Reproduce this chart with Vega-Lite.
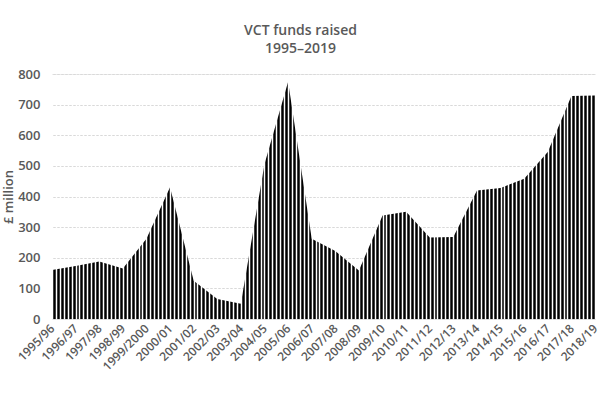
{
  "$schema": "https://vega.github.io/schema/vega-lite/v6.json",
  "width": 543,
  "height": 245,
  "autosize": {"type": "none"},
  "padding": {"left": 52, "top": 74, "right": 5, "bottom": 81},
  "background": "white",
  "title": {
    "text": ["VCT funds raised", "1995–2019"],
    "anchor": "middle",
    "dx": -23,
    "offset": 12,
    "font": "Open Sans",
    "fontSize": 14,
    "fontWeight": 600,
    "color": "#595959",
    "lineHeight": 18
  },
  "data": {
    "values": [
      {"year": "1995/96", "start": "1995-01-01", "value": 160},
      {"year": "1996/97", "start": "1996-01-01", "value": 173},
      {"year": "1997/98", "start": "1997-01-01", "value": 188},
      {"year": "1998/99", "start": "1998-01-01", "value": 165},
      {"year": "1999/2000", "start": "1999-01-01", "value": 262},
      {"year": "2000/01", "start": "2000-01-01", "value": 430},
      {"year": "2001/02", "start": "2001-01-01", "value": 125},
      {"year": "2002/03", "start": "2002-01-01", "value": 65},
      {"year": "2003/04", "start": "2003-01-01", "value": 50},
      {"year": "2004/05", "start": "2004-01-01", "value": 505},
      {"year": "2005/06", "start": "2005-01-01", "value": 775},
      {"year": "2006/07", "start": "2006-01-01", "value": 262},
      {"year": "2007/08", "start": "2007-01-01", "value": 222},
      {"year": "2008/09", "start": "2008-01-01", "value": 158},
      {"year": "2009/10", "start": "2009-01-01", "value": 338},
      {"year": "2010/11", "start": "2010-01-01", "value": 350},
      {"year": "2011/12", "start": "2011-01-01", "value": 266},
      {"year": "2012/13", "start": "2012-01-01", "value": 268},
      {"year": "2013/14", "start": "2013-01-01", "value": 420},
      {"year": "2014/15", "start": "2014-01-01", "value": 428},
      {"year": "2015/16", "start": "2015-01-01", "value": 458},
      {"year": "2016/17", "start": "2016-01-01", "value": 545},
      {"year": "2017/18", "start": "2017-01-01", "value": 728},
      {"year": "2018/19", "start": "2018-01-01", "value": 730}
    ]
  },
  "layer": [
    {
      "mark": {"type": "area", "color": "#000000", "interpolate": "linear", "opacity": 1},
      "encoding": {
        "x": {
          "field": "start",
          "type": "temporal",
          "scale": {"type": "utc", "nice": false},
          "axis": {
            "orient": "bottom",
            "tickCount": {"interval": "year", "step": 1},
            "labelExpr": "utcyear(datum.value) == 1999 ? '1999/2000' : utcyear(datum.value) + '/' + pad('' + (utcyear(datum.value) + 1) % 100, 2, '0', 'left')",
            "labelAngle": -45,
            "labelAlign": "right",
            "labelBaseline": "middle",
            "labelFlush": false,
            "labelOverlap": false,
            "labelBound": false,
            "labelPadding": 7,
            "labelFont": "Open Sans",
            "labelFontSize": 12,
            "labelFontWeight": 600,
            "labelColor": "#595959",
            "grid": false,
            "ticks": false,
            "tickSize": 0,
            "domain": true,
            "domainColor": "#d9d9d9",
            "title": null
          }
        },
        "y": {
          "field": "value",
          "type": "quantitative",
          "scale": {"domain": [0, 800], "nice": false},
          "axis": {
            "values": [0, 100, 200, 300, 400, 500, 600, 700, 800],
            "grid": true,
            "gridColor": "#d9d9d9",
            "gridWidth": 1,
            "ticks": false,
            "tickSize": 0,
            "domain": false,
            "labelPadding": 12,
            "labelFont": "Open Sans",
            "labelFontSize": 13,
            "labelFontWeight": 600,
            "labelColor": "#595959",
            "title": "£ million",
            "titleFont": "Open Sans",
            "titleFontSize": 13,
            "titleFontWeight": 600,
            "titleColor": "#595959",
            "titlePadding": 2
          }
        }
      }
    },
    {
      "mark": {"type": "point", "opacity": 0},
      "encoding": {
        "x": {
          "field": "start",
          "type": "temporal",
          "axis": {
            "orient": "top",
            "tickCount": {"interval": "month", "step": 2},
            "grid": true,
            "gridColor": "#ffffff",
            "gridWidth": 1.5,
            "gridOpacity": 1,
            "zindex": 1,
            "labels": false,
            "ticks": false,
            "domain": false,
            "title": null
          }
        }
      }
    }
  ],
  "resolve": {"axis": {"x": "independent"}}
}
